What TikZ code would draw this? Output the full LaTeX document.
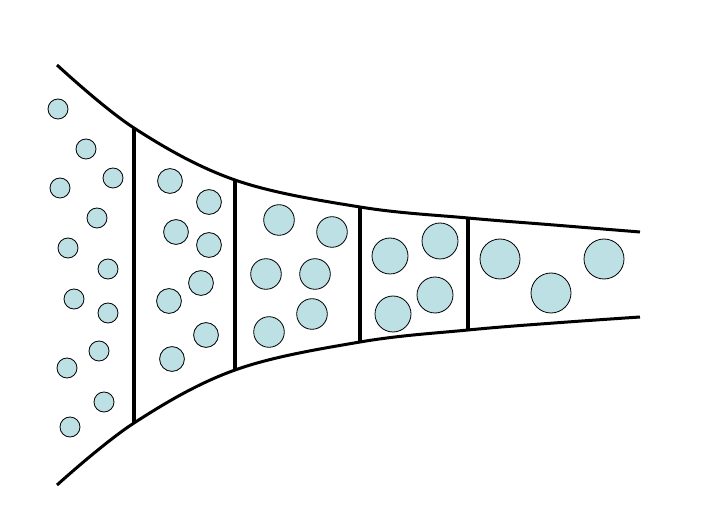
\documentclass[tikz,border=0pt]{standalone}
\definecolor{bubble}{RGB}{188,224,228}
\tikzset{
  wall/.style={line width=3pt},
  divider/.style={line width=4.4pt},
  bead/.style={draw, fill=bubble, line width=0.8pt}
}
\begin{document}
\begin{tikzpicture}[x=1pt, y=-1pt, line join=round]
\useasboundingbox (0,0) rectangle (718,529);
% the two walls of the widening channel
\coordinate (t0) at (57,65);
\coordinate (t1) at (134,128);
\coordinate (t2) at (235,180);
\coordinate (t3) at (360,207);
\coordinate (t4) at (468,218);
\coordinate (t5) at (554,225);
\coordinate (t6) at (640,232);
\coordinate (b0) at (57,485);
\coordinate (b1) at (134,423);
\coordinate (b2) at (235,370);
\coordinate (b3) at (360,342);
\coordinate (b4) at (468,330);
\coordinate (b5) at (554,323);
\coordinate (b6) at (640,317);
\draw[wall] plot[smooth, tension=0.6] coordinates {(t0) (t1) (t2) (t3) (t4) (t5) (t6)};
\draw[wall] plot[smooth, tension=0.6] coordinates {(b0) (b1) (b2) (b3) (b4) (b5) (b6)};
% cross walls between the stages
\draw[divider] (t1) -- (b1);
\draw[divider] (t2) -- (b2);
\draw[divider, line width=3.4pt] (t3) -- (b3);
\draw[divider, line width=3.4pt] (t4) -- (b4);
% stage 1 -- many small beads
\foreach \cx/\cy in {58/109, 86/149, 113/178, 60/188, 97/218, 68/248, 108/269,
                     74/299, 108/313, 99/351, 67/368, 104/402, 70/427}
  \draw[bead] (\cx,\cy) circle[radius=10];
% stage 2
\foreach \cx/\cy in {170/181, 209/202, 176/232, 209/245, 201/283, 169/301, 206/335, 172/359}
  \draw[bead] (\cx,\cy) circle[radius=12.4];
% stage 3
\foreach \cx/\cy in {279/220, 332/232, 266/274, 315/274, 312/314, 269/332}
  \draw[bead] (\cx,\cy) circle[radius=15.3];
% stage 4
\foreach \cx/\cy in {390/256, 440/241, 435/295, 393/314}
  \draw[bead] (\cx,\cy) circle[radius=18];
% stage 5 -- fewest, largest beads
\foreach \cx/\cy in {500/259, 551/293, 604/259}
  \draw[bead] (\cx,\cy) circle[radius=20];
\end{tikzpicture}
\end{document}
